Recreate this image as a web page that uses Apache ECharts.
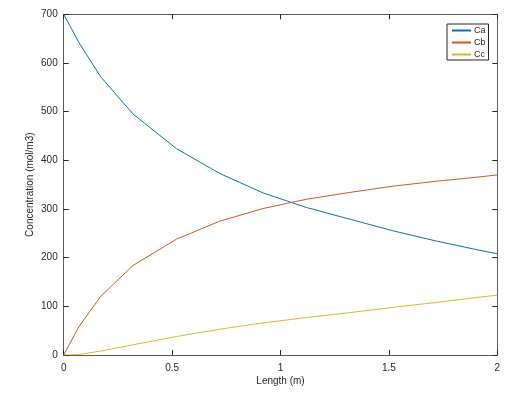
<!DOCTYPE html>
<html><head><meta charset="utf-8">
<script src="https://cdn.jsdelivr.net/npm/echarts@6/dist/echarts.min.js"></script>
<style>html,body{margin:0;padding:0;background:#fff}#c{width:519px;height:393px}</style>
</head><body><div id="c"></div>
<script>
const lengths = [0, 0.07, 0.17, 0.32, 0.52, 0.72, 0.92, 1.12, 1.32, 1.52, 1.72, 1.92, 2];
const ca = [700, 642, 572, 495, 424, 373, 333, 303, 279, 255, 234, 215, 208];
const cb = [0, 58, 120, 184, 238, 275, 301, 320, 334, 347, 357, 366, 370];
const cc = [0, 1, 8, 21, 38, 53, 66, 77, 87, 98, 108, 119, 123];
const seriesNames = ['Ca', 'Cb', 'Cc'];
const seriesColors = ['#0072BD', '#D95319', '#EDB120'];
const xTickLabels = ['0', '0.5', '1', '1.5', '2'];
const yTickLabels = ['0', '100', '200', '300', '400', '500', '600', '700'];

const FONT = "'Liberation Sans', Helvetica, Arial, sans-serif";
const axisCol = '#5a5a5a';
const lineStyle = {color: axisCol, width: 1};
const tickStyle = {show: true, inside: true, length: 5, lineStyle: {color: '#262626', width: 1}};

function pairs(ys) { return lengths.map((x, i) => [x, ys[i]]); }

const chart = echarts.init(document.getElementById('c'), null, {renderer: 'canvas'});
chart.setOption({
  animation: false,
  backgroundColor: '#fff',
  textStyle: {fontFamily: FONT},
  grid: {left: 63.7, right: 21.7, top: 14.3, bottom: 38, containLabel: false},
  legend: {
    data: seriesNames, orient: 'vertical', left: 447, top: 24,
    padding: [2, 3, 1, 4], itemWidth: 19, itemHeight: 10, itemGap: 3,
    borderColor: '#262626', borderWidth: 1, backgroundColor: '#fff',
    itemStyle: {color: 'transparent', borderColor: 'transparent', borderWidth: 0},
    textStyle: {fontSize: 9, color: '#262626', fontFamily: FONT, padding: [0, 0, 0, -2]}
  },
  xAxis: [{
    type: 'value', min: 0, max: 2, interval: 0.5, position: 'bottom',
    name: 'Length (m)', nameLocation: 'middle', nameGap: 21, nameMoveOverlap: false,
    nameTextStyle: {fontSize: 10, color: '#262626', verticalAlign: 'top', fontFamily: FONT},
    axisLine: {show: true, onZero: false, lineStyle},
    axisTick: tickStyle,
    axisLabel: {margin: 8, fontSize: 10, color: '#262626', fontFamily: FONT,
      formatter: v => xTickLabels[Math.round(v / 0.5)]},
    splitLine: {show: false}
  }, {
    type: 'value', min: 0, max: 2, interval: 0.5, position: 'top',
    axisLine: {show: true, onZero: false, lineStyle},
    axisTick: tickStyle, axisLabel: {show: false}, splitLine: {show: false}
  }],
  yAxis: [{
    type: 'value', min: 0, max: 700, interval: 100, position: 'left',
    name: 'Concentration (mol/m3)', nameLocation: 'middle', nameGap: 28, nameMoveOverlap: false,
    nameTextStyle: {fontSize: 10, color: '#262626', fontFamily: FONT},
    axisLine: {show: true, onZero: false, lineStyle},
    axisTick: tickStyle,
    axisLabel: {margin: 6, fontSize: 10, color: '#262626', fontFamily: FONT,
      formatter: v => yTickLabels[Math.round(v / 100)]},
    splitLine: {show: false}
  }, {
    type: 'value', min: 0, max: 700, interval: 100, position: 'right',
    axisLine: {show: true, onZero: false, lineStyle},
    axisTick: tickStyle, axisLabel: {show: false}, splitLine: {show: false}
  }],
  series: [ca, cb, cc].map((d, i) => ({
    name: seriesNames[i], type: 'line', data: pairs(d),
    xAxisIndex: 0, yAxisIndex: 0,
    symbol: 'none', showSymbol: false, smooth: false,
    lineStyle: {color: seriesColors[i], width: 1},
    itemStyle: {color: seriesColors[i]}
  }))
});
</script></body></html>
